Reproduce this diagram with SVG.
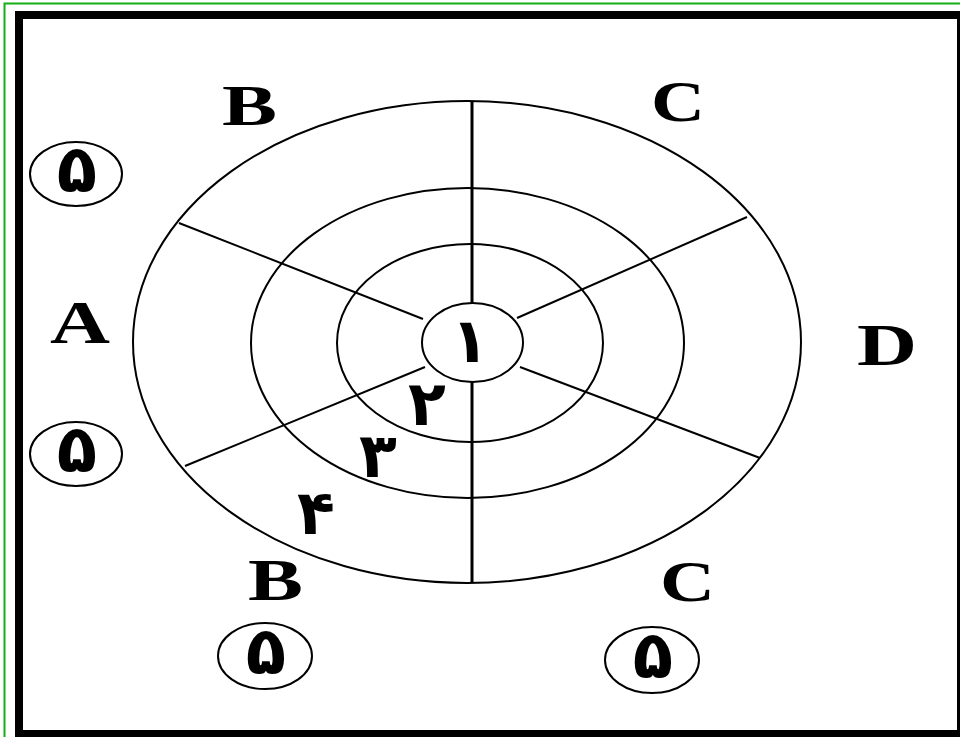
<svg xmlns="http://www.w3.org/2000/svg" width="960" height="737" viewBox="0 0 960 737">
<style>
.ring{fill:none;stroke:#000;stroke-width:2}
.spoke{stroke:#000;stroke-width:2;fill:none}
.axis{stroke:#000;stroke-width:3;fill:none}
.lbl{font-family:"Liberation Serif","Times New Roman",serif;font-weight:bold;fill:#000}
.num{font-family:"DejaVu Sans",sans-serif;font-weight:bold;fill:#000;text-anchor:middle}
.five{font-family:"DejaVu Sans",sans-serif;font-weight:bold;fill:#000;text-anchor:middle;font-size:66px}
.badge{fill:none;stroke:#000;stroke-width:2}
</style>
<rect x="0" y="0" width="960" height="737" fill="#fff"/>
<rect x="4.5" y="3.5" width="970" height="750" fill="none" stroke="#12b012" stroke-width="2"/>
<rect x="19" y="15" width="942" height="719" fill="none" stroke="#000" stroke-width="8"/>
<g id="rings">
<ellipse class="ring" cx="467" cy="342" rx="334" ry="241"/>
<ellipse class="ring" cx="467.5" cy="343" rx="216.5" ry="155"/>
<ellipse class="ring" cx="470" cy="343" rx="133" ry="99"/>
<ellipse class="ring" cx="472.5" cy="342.5" rx="50.5" ry="39.5"/>
</g>
<g id="connectors">
<line class="axis" x1="472" y1="101" x2="472" y2="303"/>
<line class="axis" x1="472" y1="382" x2="472" y2="583"/>
<line class="spoke" x1="179" y1="223" x2="423" y2="319"/>
<line class="spoke" x1="747" y1="217" x2="517" y2="318"/>
<line class="spoke" x1="185" y1="466" x2="425" y2="367"/>
<line class="spoke" x1="760" y1="458" x2="520" y2="367"/>
</g>
<g id="labels">
<text class="lbl" x="222" y="125" font-size="58" textLength="55" lengthAdjust="spacingAndGlyphs">B</text>
<text class="lbl" x="651" y="121" font-size="58" textLength="54" lengthAdjust="spacingAndGlyphs">C</text>
<text class="lbl" x="50" y="343" font-size="61" textLength="60" lengthAdjust="spacingAndGlyphs">A</text>
<text class="lbl" x="857" y="365" font-size="60" textLength="60" lengthAdjust="spacingAndGlyphs">D</text>
<text class="lbl" x="248" y="600" font-size="60" textLength="55" lengthAdjust="spacingAndGlyphs">B</text>
<text class="lbl" x="660" y="601" font-size="57" textLength="55" lengthAdjust="spacingAndGlyphs">C</text>
</g>
<g id="numbers">
<text class="num" x="470" y="362" font-size="62">۱</text>
<text class="num" x="427" y="425" font-size="62">۲</text>
<text class="num" x="378" y="477" font-size="62">۳</text>
<text class="num" x="316" y="534" font-size="62">۴</text>
</g>
<g id="badge-1"><ellipse class="badge" cx="76" cy="174" rx="46" ry="32"/><text class="five" x="77" y="192">۵</text></g>
<g id="badge-2"><ellipse class="badge" cx="76" cy="454" rx="46" ry="32"/><text class="five" x="77" y="472">۵</text></g>
<g id="badge-3"><ellipse class="badge" cx="265" cy="656" rx="47" ry="33"/><text class="five" x="266" y="674">۵</text></g>
<g id="badge-4"><ellipse class="badge" cx="652" cy="660" rx="47" ry="33"/><text class="five" x="653" y="678">۵</text></g>
</svg>
